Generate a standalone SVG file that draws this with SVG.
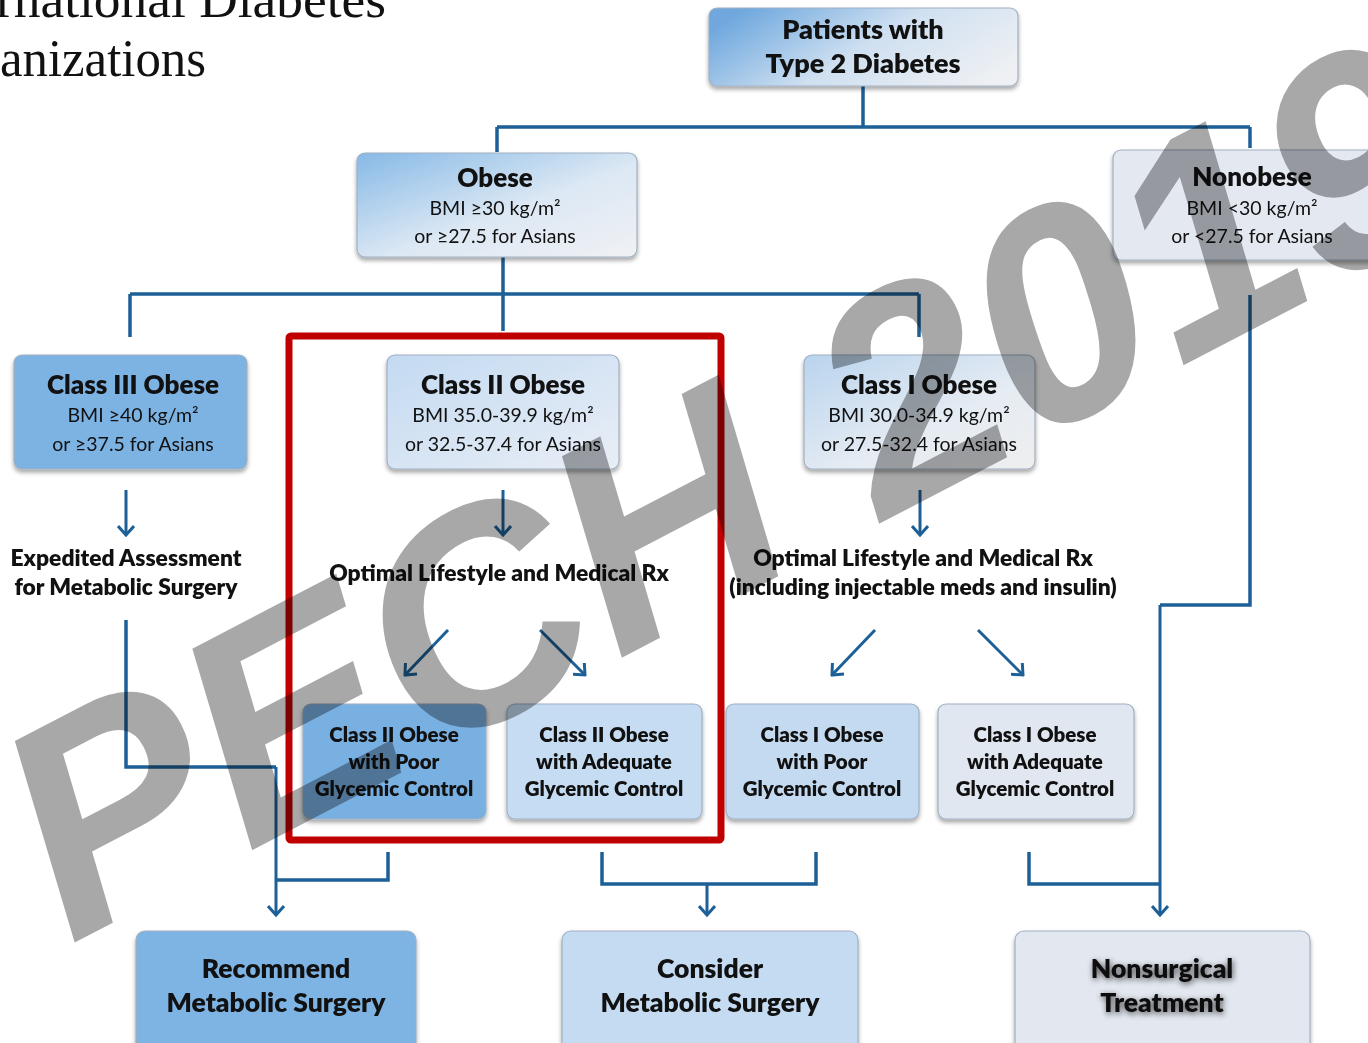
<svg xmlns="http://www.w3.org/2000/svg" width="1368" height="1043" viewBox="0 0 1368 1043">
<defs>
<style>
.t{font-family:Lato,"Liberation Sans",sans-serif;fill:#111;text-anchor:middle}
.h{font-size:26px;font-weight:800}
.s{font-size:19.5px}
.m{font-size:22.8px;font-weight:800}
.sm{font-size:20.5px;font-weight:800}
.bt{font-size:26.5px;font-weight:800}
.conn{stroke:#1d5f97;stroke-width:3.5;fill:none}
.arr{stroke:#1d5f97;stroke-width:3;fill:none;marker-end:url(#ah)}
.box{stroke:#9fb0c2;stroke-width:1.2;filter:url(#sh)}
.title{font-family:"Liberation Serif",serif;font-size:52px;fill:#111}
.wm{font-family:"Liberation Sans",Arial,sans-serif;font-weight:bold;font-style:italic;font-size:300px;fill:#a8a8a8;mix-blend-mode:multiply}
</style>
<marker id="ah" viewBox="0 0 12 18" refX="10" refY="9" markerWidth="12" markerHeight="18" markerUnits="userSpaceOnUse" orient="auto">
<path d="M1,1 L10,9 L1,17" stroke="#1d5f97" stroke-width="3" fill="none"/>
</marker>
<filter id="sh" x="-10%" y="-10%" width="120%" height="130%">
<feDropShadow dx="0" dy="3" stdDeviation="2" flood-color="#000" flood-opacity="0.35"/>
</filter>
<filter id="glow" x="-20%" y="-40%" width="140%" height="180%">
<feGaussianBlur in="SourceAlpha" stdDeviation="3"/>
<feOffset dx="1" dy="2" result="b"/>
<feComponentTransfer><feFuncA type="linear" slope="0.7"/></feComponentTransfer>
<feMerge><feMergeNode/><feMergeNode in="SourceGraphic"/></feMerge>
</filter>
<linearGradient id="gTop" x1="0" y1="0.3" x2="1" y2="0.7">
<stop offset="0" stop-color="#6fa8de"/><stop offset="0.5" stop-color="#cfe0f1"/><stop offset="1" stop-color="#eef0f3"/>
</linearGradient>
<linearGradient id="gOb" x1="0" y1="0" x2="1" y2="1">
<stop offset="0" stop-color="#86b9e6"/><stop offset="0.55" stop-color="#dce8f4"/><stop offset="1" stop-color="#f0f1f4"/>
</linearGradient>
<linearGradient id="gC2" x1="0" y1="0" x2="1" y2="1">
<stop offset="0" stop-color="#c3daf1"/><stop offset="1" stop-color="#e9eef6"/>
</linearGradient>
<linearGradient id="gC1" x1="0" y1="0" x2="1" y2="1">
<stop offset="0" stop-color="#b9d4ee"/><stop offset="0.6" stop-color="#e6ecf3"/><stop offset="1" stop-color="#eeeeee"/>
</linearGradient>
</defs>
<rect width="1368" height="1043" fill="#fff"/>

<g id="title">
<text class="title" x="-4" y="17" textLength="390" lengthAdjust="spacingAndGlyphs">rnational Diabetes</text>
<text class="title" x="0" y="76" textLength="206" lengthAdjust="spacingAndGlyphs">anizations</text>
</g>

<g id="connectors">
<path class="conn" d="M863,86 V127 M497,127 H1250 M497,127 V152 M1250,127 V148"/>
<path class="conn" d="M503,257 V331 M130,294 H919 M130,294 V337 M919,294 V337"/>
<line class="arr" x1="126" y1="490" x2="126" y2="535"/>
<line class="arr" x1="503" y1="490" x2="503" y2="535"/>
<line class="arr" x1="920" y1="490" x2="920" y2="535"/>
<line class="arr" x1="448" y1="630" x2="405" y2="675"/>
<line class="arr" x1="540" y1="630" x2="585" y2="675"/>
<line class="arr" x1="875" y1="630" x2="832" y2="675"/>
<line class="arr" x1="978" y1="630" x2="1023" y2="675"/>
<path class="conn" d="M126,620 V767 H276 M388,852 V880 H276"/>
<line class="arr" x1="276" y1="767" x2="276" y2="915"/>
<path class="conn" d="M602,852 V884 H816 V852"/>
<line class="arr" x1="707" y1="884" x2="707" y2="915"/>
<path class="conn" d="M1250,295 V605 H1160 M1029,852 V884 H1160"/>
<line class="arr" x1="1160" y1="605" x2="1160" y2="915"/>
</g>

<g id="n-patients">
<rect class="box" x="709" y="8" width="309" height="78" rx="8" fill="url(#gTop)"/>
<text class="t" font-size="27" font-weight="800" x="863" y="39">Patients with</text>
<text class="t" font-size="27" font-weight="800" x="863" y="73">Type 2 Diabetes</text>
</g>

<g id="n-obese">
<rect class="box" x="357" y="153" width="280" height="104" rx="8" fill="url(#gOb)"/>
<text class="t h" x="495" y="187">Obese</text>
<text class="t s" x="495" y="215">BMI ≥30 kg/m²</text>
<text class="t s" x="495" y="243">or ≥27.5 for Asians</text>
</g>

<g id="n-nonobese">
<rect class="box" x="1113" y="150" width="270" height="110" rx="8" fill="#e4e9f1"/>
<text class="t h" x="1252" y="186">Nonobese</text>
<text class="t s" x="1252" y="215">BMI &lt;30 kg/m²</text>
<text class="t s" x="1252" y="243">or &lt;27.5 for Asians</text>
</g>

<g id="n-class3">
<rect class="box" x="14" y="355" width="233" height="114" rx="8" fill="#7db3e3" stroke="#6494c4"/>
<text class="t h" x="133" y="394">Class III Obese</text>
<text class="t s" x="133" y="422">BMI ≥40 kg/m²</text>
<text class="t s" x="133" y="451">or ≥37.5 for Asians</text>
</g>

<g id="n-class2">
<rect class="box" x="387" y="355" width="232" height="114" rx="8" fill="url(#gC2)"/>
<text class="t h" x="503" y="394">Class II Obese</text>
<text class="t s" x="503" y="422">BMI 35.0-39.9 kg/m²</text>
<text class="t s" x="503" y="451">or 32.5-37.4 for Asians</text>
</g>

<g id="n-class1">
<rect class="box" x="804" y="355" width="231" height="114" rx="8" fill="url(#gC1)"/>
<text class="t h" x="919" y="394">Class I Obese</text>
<text class="t s" x="919" y="422">BMI 30.0-34.9 kg/m²</text>
<text class="t s" x="919" y="451">or 27.5-32.4 for Asians</text>
</g>

<g id="n-expedited">
<text class="t m" x="126" y="566">Expedited Assessment</text>
<text class="t m" x="126" y="595">for Metabolic Surgery</text>
</g>

<g id="n-optimal2">
<text class="t m" x="499" y="581">Optimal Lifestyle and Medical Rx</text>
</g>

<g id="n-optimal1">
<text class="t m" x="923" y="566">Optimal Lifestyle and Medical Rx</text>
<text class="t m" x="923" y="595">(including injectable meds and insulin)</text>
</g>

<g id="n-c2poor">
<rect class="box" x="303" y="704" width="183" height="115" rx="8" fill="#79b0e2" stroke="#6494c4"/>
<text class="t sm" x="394" y="742">Class II Obese</text>
<text class="t sm" x="394" y="769">with Poor</text>
<text class="t sm" x="394" y="796">Glycemic Control</text>
</g>

<g id="n-c2adeq">
<rect class="box" x="507" y="704" width="195" height="115" rx="8" fill="#c5dcf2"/>
<text class="t sm" x="604" y="742">Class II Obese</text>
<text class="t sm" x="604" y="769">with Adequate</text>
<text class="t sm" x="604" y="796">Glycemic Control</text>
</g>

<g id="n-c1poor">
<rect class="box" x="726" y="704" width="193" height="115" rx="8" fill="#c3daf1"/>
<text class="t sm" x="822" y="742">Class I Obese</text>
<text class="t sm" x="822" y="769">with Poor</text>
<text class="t sm" x="822" y="796">Glycemic Control</text>
</g>

<g id="n-c1adeq">
<rect class="box" x="938" y="704" width="196" height="115" rx="8" fill="#e1e7f0"/>
<text class="t sm" x="1035" y="742">Class I Obese</text>
<text class="t sm" x="1035" y="769">with Adequate</text>
<text class="t sm" x="1035" y="796">Glycemic Control</text>
</g>

<g id="highlight">
<rect x="289" y="336" width="432" height="504" fill="none" stroke="#c00000" stroke-width="7" rx="2"/>
</g>

<g id="n-recommend">
<rect class="box" x="136" y="931" width="280" height="130" rx="9" fill="#7eb4e4" stroke="#6494c4"/>
<text class="t bt" x="276" y="978">Recommend</text>
<text class="t bt" x="276" y="1012">Metabolic Surgery</text>
</g>

<g id="n-consider">
<rect class="box" x="562" y="931" width="296" height="130" rx="9" fill="#c4dbf2"/>
<text class="t bt" x="710" y="978">Consider</text>
<text class="t bt" x="710" y="1012">Metabolic Surgery</text>
</g>

<g id="n-nonsurgical">
<rect class="box" x="1015" y="931" width="295" height="130" rx="9" fill="#e3e8f0"/>
<g filter="url(#glow)">
<text class="t bt" x="1162" y="978">Nonsurgical</text>
<text class="t bt" x="1162" y="1012">Treatment</text>
</g>
</g>

<g id="watermark">
<text class="wm" transform="translate(70,945) rotate(-27.5)">PECH 2019</text>
</g>
</svg>
